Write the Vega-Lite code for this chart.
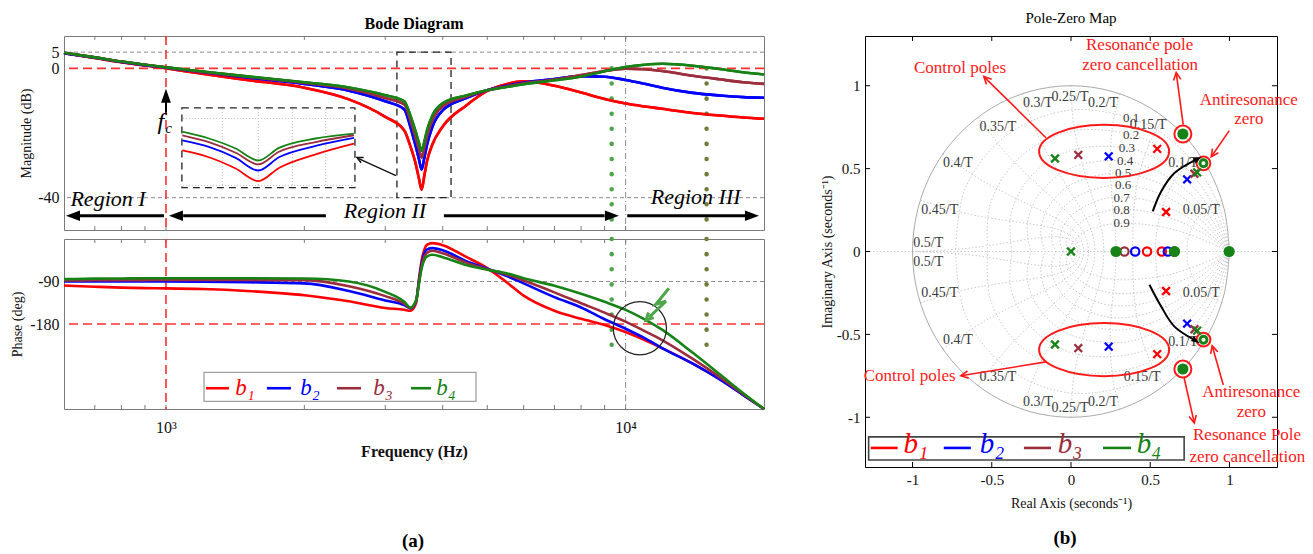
{
"$schema": "https://vega.github.io/schema/vega-lite/v6.json",
"background": "white",
"padding": {"left": 10, "top": 10, "right": 5, "bottom": 5},
"config": {
  "font": "Liberation Serif",
  "view": {"stroke": "#7a7a7a"},
  "axis": {"domain": false, "grid": false, "ticks": false, "labelColor": "#111", "titleColor": "#111", "labelFontSize": 16, "titleFontSize": 14, "titleFontWeight": "normal", "labelFont": "Liberation Serif", "titleFont": "Liberation Serif"},
  "title": {"color": "#000", "font": "Liberation Serif"},
  "text": {"font": "Liberation Serif"}
},
"datasets": {
  "bode": [
    {"f":600,"s":"b1","m":4.7,"p":-98.5},{"f":600,"s":"b2","m":4.7,"p":-90},{"f":600,"s":"b3","m":4.8,"p":-88},{"f":600,"s":"b4","m":4.8,"p":-85},
    {"f":700,"s":"b1","m":3.2,"p":-101},{"f":700,"s":"b2","m":3.3,"p":-90},{"f":700,"s":"b3","m":3.4,"p":-87.5},{"f":700,"s":"b4","m":3.4,"p":-84},
    {"f":800,"s":"b1","m":1.9,"p":-103},{"f":800,"s":"b2","m":2.0,"p":-90},{"f":800,"s":"b3","m":2.1,"p":-87},{"f":800,"s":"b4","m":2.1,"p":-83.5},
    {"f":900,"s":"b1","m":0.9,"p":-104},{"f":900,"s":"b2","m":1.0,"p":-90},{"f":900,"s":"b3","m":1.1,"p":-87},{"f":900,"s":"b4","m":1.1,"p":-83},
    {"f":1000,"s":"b1","m":0.0,"p":-104.5},{"f":1000,"s":"b2","m":0.2,"p":-90},{"f":1000,"s":"b3","m":0.3,"p":-86.5},{"f":1000,"s":"b4","m":0.3,"p":-83},
    {"f":1200,"s":"b1","m":-1.7,"p":-106},{"f":1200,"s":"b2","m":-1.2,"p":-90.5},{"f":1200,"s":"b3","m":-1.1,"p":-86.5},{"f":1200,"s":"b4","m":-1.0,"p":-83},
    {"f":1500,"s":"b1","m":-3.6,"p":-110},{"f":1500,"s":"b2","m":-2.8,"p":-91.5},{"f":1500,"s":"b3","m":-2.6,"p":-86.5},{"f":1500,"s":"b4","m":-2.5,"p":-83},
    {"f":2000,"s":"b1","m":-6.0,"p":-119},{"f":2000,"s":"b2","m":-4.8,"p":-94},{"f":2000,"s":"b3","m":-4.5,"p":-87},{"f":2000,"s":"b4","m":-4.3,"p":-83.5},
    {"f":2500,"s":"b1","m":-9.6,"p":-132},{"f":2500,"s":"b2","m":-6.9,"p":-110},{"f":2500,"s":"b3","m":-6.3,"p":-100},{"f":2500,"s":"b4","m":-5.9,"p":-90},
    {"f":3000,"s":"b1","m":-15.0,"p":-146},{"f":3000,"s":"b2","m":-10.2,"p":-130},{"f":3000,"s":"b3","m":-9.2,"p":-121},{"f":3000,"s":"b4","m":-8.3,"p":-112},
    {"f":3300,"s":"b1","m":-19.2,"p":-150},{"f":3300,"s":"b2","m":-12.7,"p":-140},{"f":3300,"s":"b3","m":-11.2,"p":-137},{"f":3300,"s":"b4","m":-10.2,"p":-133},
    {"f":3400,"s":"b1","m":-24.0,"p":-152},{"f":3400,"s":"b2","m":-18.0,"p":-147},{"f":3400,"s":"b3","m":-16.0,"p":-146},{"f":3400,"s":"b4","m":-14.5,"p":-145},
    {"f":3500,"s":"b1","m":-30.0,"p":-136},{"f":3500,"s":"b2","m":-24.5,"p":-132},{"f":3500,"s":"b3","m":-22.0,"p":-131},{"f":3500,"s":"b4","m":-20.0,"p":-130},
    {"f":3550,"s":"b1","m":-34.0,"p":-86},{"f":3550,"s":"b2","m":-28.0,"p":-90},{"f":3550,"s":"b3","m":-25.0,"p":-93},{"f":3550,"s":"b4","m":-23.0,"p":-96},
    {"f":3600,"s":"b1","m":-37.5,"p":-45},{"f":3600,"s":"b2","m":-31.3,"p":-52},{"f":3600,"s":"b3","m":-27.6,"p":-57},{"f":3600,"s":"b4","m":-25.5,"p":-62},
    {"f":3650,"s":"b1","m":-33.0,"p":-22},{"f":3650,"s":"b2","m":-27.5,"p":-30},{"f":3650,"s":"b3","m":-24.5,"p":-37},{"f":3650,"s":"b4","m":-22.5,"p":-44},
    {"f":3700,"s":"b1","m":-28.5,"p":-12},{"f":3700,"s":"b2","m":-23.5,"p":-22},{"f":3700,"s":"b3","m":-21.0,"p":-29},{"f":3700,"s":"b4","m":-19.0,"p":-37},
    {"f":3800,"s":"b1","m":-23.5,"p":-8.7},{"f":3800,"s":"b2","m":-18.0,"p":-19.3},{"f":3800,"s":"b3","m":-16.0,"p":-25},{"f":3800,"s":"b4","m":-14.5,"p":-33.5},
    {"f":4000,"s":"b1","m":-18.0,"p":-13},{"f":4000,"s":"b2","m":-13.0,"p":-24},{"f":4000,"s":"b3","m":-11.8,"p":-30},{"f":4000,"s":"b4","m":-10.8,"p":-38.5},
    {"f":4500,"s":"b1","m":-11.5,"p":-38},{"f":4500,"s":"b2","m":-9.2,"p":-47},{"f":4500,"s":"b3","m":-8.8,"p":-50},{"f":4500,"s":"b4","m":-8.4,"p":-55},
    {"f":5000,"s":"b1","m":-7.0,"p":-61.5},{"f":5000,"s":"b2","m":-6.8,"p":-63},{"f":5000,"s":"b3","m":-6.8,"p":-64},{"f":5000,"s":"b4","m":-6.8,"p":-65},
    {"f":5500,"s":"b1","m":-4.9,"p":-91},{"f":5500,"s":"b2","m":-5.4,"p":-78},{"f":5500,"s":"b3","m":-5.6,"p":-75},{"f":5500,"s":"b4","m":-5.8,"p":-72.5},
    {"f":6000,"s":"b1","m":-4.0,"p":-120},{"f":6000,"s":"b2","m":-4.4,"p":-94},{"f":6000,"s":"b3","m":-4.6,"p":-88},{"f":6000,"s":"b4","m":-4.9,"p":-83},
    {"f":7000,"s":"b1","m":-5.4,"p":-152},{"f":7000,"s":"b2","m":-3.3,"p":-123},{"f":7000,"s":"b3","m":-3.5,"p":-113},{"f":7000,"s":"b4","m":-3.7,"p":-99},
    {"f":8000,"s":"b1","m":-7.5,"p":-169},{"f":8000,"s":"b2","m":-2.4,"p":-145},{"f":8000,"s":"b3","m":-2.1,"p":-136},{"f":8000,"s":"b4","m":-2.5,"p":-116},
    {"f":9000,"s":"b1","m":-9.5,"p":-182},{"f":9000,"s":"b2","m":-2.6,"p":-170},{"f":9000,"s":"b3","m":-0.8,"p":-156},{"f":9000,"s":"b4","m":-0.9,"p":-133},
    {"f":10000,"s":"b1","m":-10.9,"p":-197},{"f":10000,"s":"b2","m":-3.6,"p":-190},{"f":10000,"s":"b3","m":-0.1,"p":-175},{"f":10000,"s":"b4","m":0.4,"p":-150},
    {"f":11000,"s":"b1","m":-11.8,"p":-214},{"f":11000,"s":"b2","m":-4.8,"p":-210},{"f":11000,"s":"b3","m":-0.3,"p":-195},{"f":11000,"s":"b4","m":1.1,"p":-170},
    {"f":12000,"s":"b1","m":-12.5,"p":-231},{"f":12000,"s":"b2","m":-6.0,"p":-231},{"f":12000,"s":"b3","m":-0.8,"p":-214},{"f":12000,"s":"b4","m":1.4,"p":-192},
    {"f":14000,"s":"b1","m":-13.8,"p":-264},{"f":14000,"s":"b2","m":-7.6,"p":-264},{"f":14000,"s":"b3","m":-2.3,"p":-254},{"f":14000,"s":"b4","m":0.8,"p":-241},
    {"f":16000,"s":"b1","m":-14.6,"p":-297},{"f":16000,"s":"b2","m":-8.4,"p":-297},{"f":16000,"s":"b3","m":-3.4,"p":-292},{"f":16000,"s":"b4","m":-0.2,"p":-286},
    {"f":18000,"s":"b1","m":-15.2,"p":-330},{"f":18000,"s":"b2","m":-8.9,"p":-330},{"f":18000,"s":"b3","m":-4.3,"p":-328},{"f":18000,"s":"b4","m":-1.2,"p":-326},
    {"f":20000,"s":"b1","m":-15.6,"p":-360},{"f":20000,"s":"b2","m":-9.1,"p":-360},{"f":20000,"s":"b3","m":-4.8,"p":-360},{"f":20000,"s":"b4","m":-1.9,"p":-360}
  ],
  "inset": [
    {"f":1085,"s":"b4","m":-19.6},{"f":1240,"s":"b4","m":-21.7},{"f":1418,"s":"b4","m":-24.8},{"f":1588,"s":"b4","m":-28.5},{"f":1761,"s":"b4","m":-24.6},{"f":2117,"s":"b4","m":-21.7},{"f":2564,"s":"b4","m":-20.2},
    {"f":1085,"s":"b3","m":-20.7},{"f":1240,"s":"b3","m":-22.8},{"f":1418,"s":"b3","m":-26.1},{"f":1588,"s":"b3","m":-29.7},{"f":1761,"s":"b3","m":-25.8},{"f":2117,"s":"b3","m":-22.8},{"f":2564,"s":"b3","m":-20.7},
    {"f":1085,"s":"b2","m":-22.3},{"f":1240,"s":"b2","m":-24.3},{"f":1418,"s":"b2","m":-27.7},{"f":1588,"s":"b2","m":-31.6},{"f":1761,"s":"b2","m":-27.5},{"f":2117,"s":"b2","m":-24.0},{"f":2564,"s":"b2","m":-21.5},
    {"f":1085,"s":"b1","m":-25.4},{"f":1240,"s":"b1","m":-27.5},{"f":1418,"s":"b1","m":-31.0},{"f":1588,"s":"b1","m":-34.9},{"f":1761,"s":"b1","m":-30.8},{"f":2117,"s":"b1","m":-26.6},{"f":2564,"s":"b1","m":-23.3}
  ],
  "xticks": [{"f":700},{"f":800},{"f":900},{"f":1000},{"f":2000},{"f":3000},{"f":4000},{"f":5000},{"f":6000},{"f":7000},{"f":8000},{"f":9000},{"f":10000}],
  "pzticks": [{"v":-1},{"v":-0.5},{"v":0},{"v":0.5},{"v":1}],
  "blegend": [{"s":"b1","a":1222,"b":1371,"c":1485,"t":"b₁"},{"s":"b2","a":1658,"b":1870,"c":2057,"t":"b₂"},{"s":"b3","a":2355,"b":2657,"c":2965,"t":"b₃"},{"s":"b4","a":3412,"b":3772,"c":4065,"t":"b₄"}],
  "pzlegend": [{"s":"b1","a":-1.264,"b":-1.094,"c":-0.98,"t":"b₁"},{"s":"b2","a":-0.803,"b":-0.632,"c":-0.499,"t":"b₂"},{"s":"b3","a":-0.297,"b":-0.126,"c":-0.006,"t":"b₃"},{"s":"b4","a":0.202,"b":0.379,"c":0.493,"t":"b₄"}],
  "uc": [
    {"x":1,"y":0},{"x":0.9659,"y":0.2588},{"x":0.866,"y":0.5},{"x":0.7071,"y":0.7071},{"x":0.5,"y":0.866},{"x":0.2588,"y":0.9659},{"x":0,"y":1},{"x":-0.2588,"y":0.9659},{"x":-0.5,"y":0.866},{"x":-0.7071,"y":0.7071},{"x":-0.866,"y":0.5},{"x":-0.9659,"y":0.2588},{"x":-1,"y":0},
    {"x":-0.9659,"y":-0.2588},{"x":-0.866,"y":-0.5},{"x":-0.7071,"y":-0.7071},{"x":-0.5,"y":-0.866},{"x":-0.2588,"y":-0.9659},{"x":0,"y":-1},{"x":0.2588,"y":-0.9659},{"x":0.5,"y":-0.866},{"x":0.7071,"y":-0.7071},{"x":0.866,"y":-0.5},{"x":0.9659,"y":-0.2588},{"x":1,"y":0}
  ],
  "pzgrid": [
    {"g":"z1u","x":1,"y":0},{"g":"z1u","x":0.9408,"y":0.2521},{"g":"z1u","x":0.8217,"y":0.4744},{"g":"z1u","x":0.6534,"y":0.6534},{"g":"z1u","x":0.45,"y":0.7795},{"g":"z1u","x":0,"y":0.854},{"g":"z1u","x":-0.4051,"y":0.7016},{"g":"z1u","x":-0.6656,"y":0.3843},{"g":"z1u","x":-0.7293,"y":0},
    {"g":"z2u","x":1,"y":0},{"g":"z2u","x":0.9157,"y":0.2453},{"g":"z2u","x":0.7782,"y":0.4493},{"g":"z2u","x":0.6024,"y":0.6024},{"g":"z2u","x":0.4038,"y":0.6994},{"g":"z2u","x":0,"y":0.7257},{"g":"z2u","x":-0.3261,"y":0.5648},{"g":"z2u","x":-0.5076,"y":0.2931},{"g":"z2u","x":-0.5267,"y":0},
    {"g":"z3u","x":1,"y":0},{"g":"z3u","x":0.8896,"y":0.2384},{"g":"z3u","x":0.7345,"y":0.4241},{"g":"z3u","x":0.5523,"y":0.5523},{"g":"z3u","x":0.3597,"y":0.623},{"g":"z3u","x":0,"y":0.6102},{"g":"z3u","x":-0.2588,"y":0.4482},{"g":"z3u","x":-0.3802,"y":0.2195},{"g":"z3u","x":-0.3723,"y":0},
    {"g":"z4u","x":1,"y":0},{"g":"z4u","x":0.8616,"y":0.2309},{"g":"z4u","x":0.6891,"y":0.3979},{"g":"z4u","x":0.502,"y":0.502},{"g":"z4u","x":0.3166,"y":0.5484},{"g":"z4u","x":0,"y":0.5038},{"g":"z4u","x":-0.2005,"y":0.3472},{"g":"z4u","x":-0.2763,"y":0.1595},{"g":"z4u","x":-0.2539,"y":0},
    {"g":"z5u","x":1,"y":0},{"g":"z5u","x":0.8304,"y":0.2225},{"g":"z5u","x":0.6401,"y":0.3696},{"g":"z5u","x":0.4493,"y":0.4493},{"g":"z5u","x":0.2732,"y":0.4731},{"g":"z5u","x":0,"y":0.4038},{"g":"z5u","x":-0.1492,"y":0.2584},{"g":"z5u","x":-0.191,"y":0.1103},{"g":"z5u","x":-0.163,"y":0},
    {"g":"z6u","x":1,"y":0},{"g":"z6u","x":0.7937,"y":0.2127},{"g":"z6u","x":0.5847,"y":0.3376},{"g":"z6u","x":0.3924,"y":0.3924},{"g":"z6u","x":0.228,"y":0.3948},{"g":"z6u","x":0,"y":0.3079},{"g":"z6u","x":-0.104,"y":0.18},{"g":"z6u","x":-0.1216,"y":0.0702},{"g":"z6u","x":-0.0948,"y":0},
    {"g":"z7u","x":1,"y":0},{"g":"z7u","x":0.7473,"y":0.2002},{"g":"z7u","x":0.5184,"y":0.2993},{"g":"z7u","x":0.3275,"y":0.3275},{"g":"z7u","x":0.1792,"y":0.3103},{"g":"z7u","x":0,"y":0.2145},{"g":"z7u","x":-0.0642,"y":0.1112},{"g":"z7u","x":-0.0665,"y":0.0384},{"g":"z7u","x":-0.046,"y":0},
    {"g":"z8u","x":1,"y":0},{"g":"z8u","x":0.8327,"y":0.1096},{"g":"z8u","x":0.6812,"y":0.1825},{"g":"z8u","x":0.4308,"y":0.2488},{"g":"z8u","x":0.2481,"y":0.2481},{"g":"z8u","x":0.1238,"y":0.2143},{"g":"z8u","x":0,"y":0.1231},{"g":"z8u","x":-0.0307,"y":0.0531},{"g":"z8u","x":-0.0264,"y":0.0153},{"g":"z8u","x":-0.0152,"y":0},
    {"g":"z9u","x":1,"y":0},{"g":"z9u","x":0.7567,"y":0.0996},{"g":"z9u","x":0.5627,"y":0.1508},{"g":"z9u","x":0.2937,"y":0.1696},{"g":"z9u","x":0.1397,"y":0.1397},{"g":"z9u","x":0.0576,"y":0.0997},{"g":"z9u","x":0,"y":0.039},{"g":"z9u","x":-0.0066,"y":0.0114},{"g":"z9u","x":-0.0015,"y":0},
    {"g":"z1l","x":1,"y":0},{"g":"z1l","x":0.9408,"y":-0.2521},{"g":"z1l","x":0.8217,"y":-0.4744},{"g":"z1l","x":0.6534,"y":-0.6534},{"g":"z1l","x":0.45,"y":-0.7795},{"g":"z1l","x":0,"y":-0.854},{"g":"z1l","x":-0.4051,"y":-0.7016},{"g":"z1l","x":-0.6656,"y":-0.3843},{"g":"z1l","x":-0.7293,"y":0},
    {"g":"z2l","x":1,"y":0},{"g":"z2l","x":0.9157,"y":-0.2453},{"g":"z2l","x":0.7782,"y":-0.4493},{"g":"z2l","x":0.6024,"y":-0.6024},{"g":"z2l","x":0.4038,"y":-0.6994},{"g":"z2l","x":0,"y":-0.7257},{"g":"z2l","x":-0.3261,"y":-0.5648},{"g":"z2l","x":-0.5076,"y":-0.2931},{"g":"z2l","x":-0.5267,"y":0},
    {"g":"z3l","x":1,"y":0},{"g":"z3l","x":0.8896,"y":-0.2384},{"g":"z3l","x":0.7345,"y":-0.4241},{"g":"z3l","x":0.5523,"y":-0.5523},{"g":"z3l","x":0.3597,"y":-0.623},{"g":"z3l","x":0,"y":-0.6102},{"g":"z3l","x":-0.2588,"y":-0.4482},{"g":"z3l","x":-0.3802,"y":-0.2195},{"g":"z3l","x":-0.3723,"y":0},
    {"g":"z4l","x":1,"y":0},{"g":"z4l","x":0.8616,"y":-0.2309},{"g":"z4l","x":0.6891,"y":-0.3979},{"g":"z4l","x":0.502,"y":-0.502},{"g":"z4l","x":0.3166,"y":-0.5484},{"g":"z4l","x":0,"y":-0.5038},{"g":"z4l","x":-0.2005,"y":-0.3472},{"g":"z4l","x":-0.2763,"y":-0.1595},{"g":"z4l","x":-0.2539,"y":0},
    {"g":"z5l","x":1,"y":0},{"g":"z5l","x":0.8304,"y":-0.2225},{"g":"z5l","x":0.6401,"y":-0.3696},{"g":"z5l","x":0.4493,"y":-0.4493},{"g":"z5l","x":0.2732,"y":-0.4731},{"g":"z5l","x":0,"y":-0.4038},{"g":"z5l","x":-0.1492,"y":-0.2584},{"g":"z5l","x":-0.191,"y":-0.1103},{"g":"z5l","x":-0.163,"y":0},
    {"g":"z6l","x":1,"y":0},{"g":"z6l","x":0.7937,"y":-0.2127},{"g":"z6l","x":0.5847,"y":-0.3376},{"g":"z6l","x":0.3924,"y":-0.3924},{"g":"z6l","x":0.228,"y":-0.3948},{"g":"z6l","x":0,"y":-0.3079},{"g":"z6l","x":-0.104,"y":-0.18},{"g":"z6l","x":-0.1216,"y":-0.0702},{"g":"z6l","x":-0.0948,"y":0},
    {"g":"z7l","x":1,"y":0},{"g":"z7l","x":0.7473,"y":-0.2002},{"g":"z7l","x":0.5184,"y":-0.2993},{"g":"z7l","x":0.3275,"y":-0.3275},{"g":"z7l","x":0.1792,"y":-0.3103},{"g":"z7l","x":0,"y":-0.2145},{"g":"z7l","x":-0.0642,"y":-0.1112},{"g":"z7l","x":-0.0665,"y":-0.0384},{"g":"z7l","x":-0.046,"y":0},
    {"g":"z8l","x":1,"y":0},{"g":"z8l","x":0.8327,"y":-0.1096},{"g":"z8l","x":0.6812,"y":-0.1825},{"g":"z8l","x":0.4308,"y":-0.2488},{"g":"z8l","x":0.2481,"y":-0.2481},{"g":"z8l","x":0.1238,"y":-0.2143},{"g":"z8l","x":0,"y":-0.1231},{"g":"z8l","x":-0.0307,"y":-0.0531},{"g":"z8l","x":-0.0264,"y":-0.0153},{"g":"z8l","x":-0.0152,"y":0},
    {"g":"z9l","x":1,"y":0},{"g":"z9l","x":0.7567,"y":-0.0996},{"g":"z9l","x":0.5627,"y":-0.1508},{"g":"z9l","x":0.2937,"y":-0.1696},{"g":"z9l","x":0.1397,"y":-0.1397},{"g":"z9l","x":0.0576,"y":-0.0997},{"g":"z9l","x":0,"y":-0.039},{"g":"z9l","x":-0.0066,"y":-0.0114},{"g":"z9l","x":-0.0015,"y":0},
    {"g":"w1u","x":0.9511,"y":0.309},{"g":"w1u","x":0.8798,"y":0.2755},{"g":"w1u","x":0.8232,"y":0.2297},{"g":"w1u","x":0.7811,"y":0.1764},{"g":"w1u","x":0.7524,"y":0.1191},{"g":"w1u","x":0.7359,"y":0.06},{"g":"w1u","x":0.7304,"y":0},
    {"g":"w2u","x":0.809,"y":0.5878},{"g":"w2u","x":0.6981,"y":0.4848},{"g":"w2u","x":0.6249,"y":0.3781},{"g":"w2u","x":0.579,"y":0.2757},{"g":"w2u","x":0.5519,"y":0.1793},{"g":"w2u","x":0.5379,"y":0.0883},{"g":"w2u","x":0.5335,"y":0},
    {"g":"w3u","x":0.5878,"y":0.809},{"g":"w3u","x":0.5255,"y":0.7113},{"g":"w3u","x":0.4808,"y":0.6187},{"g":"w3u","x":0.4277,"y":0.4548},{"g":"w3u","x":0.4037,"y":0.3175},{"g":"w3u","x":0.3939,"y":0.2007},{"g":"w3u","x":0.3905,"y":0.0972},{"g":"w3u","x":0.3897,"y":0},
    {"g":"w4u","x":0.309,"y":0.9511},{"g":"w4u","x":0.271,"y":0.8043},{"g":"w4u","x":0.253,"y":0.6767},{"g":"w4u","x":0.2479,"y":0.4724},{"g":"w4u","x":0.2593,"y":0.3192},{"g":"w4u","x":0.2725,"y":0.198},{"g":"w4u","x":0.2815,"y":0.0949},{"g":"w4u","x":0.2846,"y":0},
    {"g":"w5u","x":0,"y":1},{"g":"w5u","x":0.011,"y":0.8145},{"g":"w5u","x":0.0356,"y":0.665},{"g":"w5u","x":0.0953,"y":0.4458},{"g":"w5u","x":0.1464,"y":0.295},{"g":"w5u","x":0.1814,"y":0.1814},{"g":"w5u","x":0.2014,"y":0.0867},{"g":"w5u","x":0.2079,"y":0},
    {"g":"w6u","x":-0.309,"y":0.9511},{"g":"w6u","x":-0.2296,"y":0.7474},{"g":"w6u","x":-0.1519,"y":0.5948},{"g":"w6u","x":-0.024,"y":0.389},{"g":"w6u","x":0.0621,"y":0.2563},{"g":"w6u","x":0.1149,"y":0.1582},{"g":"w6u","x":0.143,"y":0.0759},{"g":"w6u","x":0.1518,"y":0},
    {"g":"w7u","x":-0.5878,"y":0.809},{"g":"w7u","x":-0.4295,"y":0.6155},{"g":"w7u","x":-0.2973,"y":0.4816},{"g":"w7u","x":-0.1091,"y":0.3147},{"g":"w7u","x":0.0033,"y":0.2112},{"g":"w7u","x":0.0676,"y":0.1327},{"g":"w7u","x":0.1007,"y":0.0644},{"g":"w7u","x":0.1109,"y":0},
    {"g":"w8u","x":-0.809,"y":0.5878},{"g":"w8u","x":-0.5736,"y":0.4358},{"g":"w8u","x":-0.3942,"y":0.3419},{"g":"w8u","x":-0.162,"y":0.234},{"g":"w8u","x":-0.0347,"y":0.1655},{"g":"w8u","x":0.035,"y":0.1079},{"g":"w8u","x":0.0702,"y":0.0534},{"g":"w8u","x":0.081,"y":0},
    {"g":"w9u","x":-0.9511,"y":0.309},{"g":"w9u","x":-0.6531,"y":0.227},{"g":"w9u","x":-0.4411,"y":0.1919},{"g":"w9u","x":-0.1871,"y":0.1554},{"g":"w9u","x":-0.0563,"y":0.1233},{"g":"w9u","x":0.0135,"y":0.0853},{"g":"w9u","x":0.0484,"y":0.0435},{"g":"w9u","x":0.0592,"y":0},
    {"g":"w10u","x":-1,"y":0},{"g":"w10u","x":-0.6634,"y":0.0179},{"g":"w10u","x":-0.441,"y":0.0474},{"g":"w10u","x":-0.1899,"y":0.0846},{"g":"w10u","x":-0.0657,"y":0.0863},{"g":"w10u","x":0,"y":0.0658},{"g":"w10u","x":0.0331,"y":0.0349},{"g":"w10u","x":0.0432,"y":0},
    {"g":"w1l","x":0.9511,"y":-0.309},{"g":"w1l","x":0.8798,"y":-0.2755},{"g":"w1l","x":0.8232,"y":-0.2297},{"g":"w1l","x":0.7811,"y":-0.1764},{"g":"w1l","x":0.7524,"y":-0.1191},{"g":"w1l","x":0.7359,"y":-0.06},{"g":"w1l","x":0.7304,"y":0},
    {"g":"w2l","x":0.809,"y":-0.5878},{"g":"w2l","x":0.6981,"y":-0.4848},{"g":"w2l","x":0.6249,"y":-0.3781},{"g":"w2l","x":0.579,"y":-0.2757},{"g":"w2l","x":0.5519,"y":-0.1793},{"g":"w2l","x":0.5379,"y":-0.0883},{"g":"w2l","x":0.5335,"y":0},
    {"g":"w3l","x":0.5878,"y":-0.809},{"g":"w3l","x":0.5255,"y":-0.7113},{"g":"w3l","x":0.4808,"y":-0.6187},{"g":"w3l","x":0.4277,"y":-0.4548},{"g":"w3l","x":0.4037,"y":-0.3175},{"g":"w3l","x":0.3939,"y":-0.2007},{"g":"w3l","x":0.3905,"y":-0.0972},{"g":"w3l","x":0.3897,"y":0},
    {"g":"w4l","x":0.309,"y":-0.9511},{"g":"w4l","x":0.271,"y":-0.8043},{"g":"w4l","x":0.253,"y":-0.6767},{"g":"w4l","x":0.2479,"y":-0.4724},{"g":"w4l","x":0.2593,"y":-0.3192},{"g":"w4l","x":0.2725,"y":-0.198},{"g":"w4l","x":0.2815,"y":-0.0949},{"g":"w4l","x":0.2846,"y":0},
    {"g":"w5l","x":0,"y":-1},{"g":"w5l","x":0.011,"y":-0.8145},{"g":"w5l","x":0.0356,"y":-0.665},{"g":"w5l","x":0.0953,"y":-0.4458},{"g":"w5l","x":0.1464,"y":-0.295},{"g":"w5l","x":0.1814,"y":-0.1814},{"g":"w5l","x":0.2014,"y":-0.0867},{"g":"w5l","x":0.2079,"y":0},
    {"g":"w6l","x":-0.309,"y":-0.9511},{"g":"w6l","x":-0.2296,"y":-0.7474},{"g":"w6l","x":-0.1519,"y":-0.5948},{"g":"w6l","x":-0.024,"y":-0.389},{"g":"w6l","x":0.0621,"y":-0.2563},{"g":"w6l","x":0.1149,"y":-0.1582},{"g":"w6l","x":0.143,"y":-0.0759},{"g":"w6l","x":0.1518,"y":0},
    {"g":"w7l","x":-0.5878,"y":-0.809},{"g":"w7l","x":-0.4295,"y":-0.6155},{"g":"w7l","x":-0.2973,"y":-0.4816},{"g":"w7l","x":-0.1091,"y":-0.3147},{"g":"w7l","x":0.0033,"y":-0.2112},{"g":"w7l","x":0.0676,"y":-0.1327},{"g":"w7l","x":0.1007,"y":-0.0644},{"g":"w7l","x":0.1109,"y":0},
    {"g":"w8l","x":-0.809,"y":-0.5878},{"g":"w8l","x":-0.5736,"y":-0.4358},{"g":"w8l","x":-0.3942,"y":-0.3419},{"g":"w8l","x":-0.162,"y":-0.234},{"g":"w8l","x":-0.0347,"y":-0.1655},{"g":"w8l","x":0.035,"y":-0.1079},{"g":"w8l","x":0.0702,"y":-0.0534},{"g":"w8l","x":0.081,"y":0},
    {"g":"w9l","x":-0.9511,"y":-0.309},{"g":"w9l","x":-0.6531,"y":-0.227},{"g":"w9l","x":-0.4411,"y":-0.1919},{"g":"w9l","x":-0.1871,"y":-0.1554},{"g":"w9l","x":-0.0563,"y":-0.1233},{"g":"w9l","x":0.0135,"y":-0.0853},{"g":"w9l","x":0.0484,"y":-0.0435},{"g":"w9l","x":0.0592,"y":0},
    {"g":"w10l","x":-1,"y":0},{"g":"w10l","x":-0.6634,"y":-0.0179},{"g":"w10l","x":-0.441,"y":-0.0474},{"g":"w10l","x":-0.1899,"y":-0.0846},{"g":"w10l","x":-0.0657,"y":-0.0863},{"g":"w10l","x":0,"y":-0.0658},{"g":"w10l","x":0.0331,"y":-0.0349},{"g":"w10l","x":0.0432,"y":0}
  ],
  "pzlabels": [
    {"x":-0.901,"y":0.053,"t":"0.5/T"},{"x":-0.901,"y":-0.062,"t":"0.5/T"},
    {"x":-0.828,"y":0.252,"t":"0.45/T"},{"x":-0.828,"y":-0.249,"t":"0.45/T"},
    {"x":-0.714,"y":0.536,"t":"0.4/T"},{"x":-0.714,"y":-0.533,"t":"0.4/T"},
    {"x":-0.461,"y":0.753,"t":"0.35/T"},{"x":-0.461,"y":-0.757,"t":"0.35/T"},
    {"x":-0.209,"y":0.898,"t":"0.3/T"},{"x":-0.209,"y":-0.908,"t":"0.3/T"},
    {"x":-0.006,"y":0.934,"t":"0.25/T"},{"x":-0.006,"y":-0.944,"t":"0.25/T"},
    {"x":0.202,"y":0.898,"t":"0.2/T"},{"x":0.202,"y":-0.908,"t":"0.2/T"},
    {"x":0.487,"y":0.765,"t":"0.15/T"},{"x":0.449,"y":-0.757,"t":"0.15/T"},
    {"x":0.708,"y":0.536,"t":"0.1/T"},{"x":0.708,"y":-0.545,"t":"0.1/T"},
    {"x":0.822,"y":0.252,"t":"0.05/T"},{"x":0.822,"y":-0.249,"t":"0.05/T"}
  ],
  "zlabels": [
    {"x":0.379,"y":0.807,"t":"0.1"},{"x":0.379,"y":0.705,"t":"0.2"},{"x":0.352,"y":0.624,"t":"0.3"},{"x":0.341,"y":0.543,"t":"0.4"},{"x":0.329,"y":0.473,"t":"0.5"},{"x":0.329,"y":0.403,"t":"0.6"},{"x":0.32,"y":0.322,"t":"0.7"},{"x":0.32,"y":0.252,"t":"0.8"},{"x":0.32,"y":0.171,"t":"0.9"}
  ],
  "pz": [
    {"s":"b1","k":"p","x":0.544,"y":0.619},{"s":"b1","k":"p","x":0.544,"y":-0.619},{"s":"b1","k":"p","x":0.6,"y":0.238},{"s":"b1","k":"p","x":0.6,"y":-0.238},
    {"s":"b2","k":"p","x":0.238,"y":0.574},{"s":"b2","k":"p","x":0.238,"y":-0.574},{"s":"b2","k":"p","x":0.733,"y":0.435},{"s":"b2","k":"p","x":0.733,"y":-0.435},
    {"s":"b3","k":"p","x":0.046,"y":0.583},{"s":"b3","k":"p","x":0.046,"y":-0.583},{"s":"b3","k":"p","x":0.779,"y":0.469},{"s":"b3","k":"p","x":0.779,"y":-0.469},
    {"s":"b4","k":"p","x":-0.101,"y":0.561},{"s":"b4","k":"p","x":-0.101,"y":-0.561},{"s":"b4","k":"p","x":0.796,"y":0.477},{"s":"b4","k":"p","x":0.796,"y":-0.477},{"s":"b4","k":"p","x":0,"y":0},
    {"s":"b3","k":"z","x":0.337,"y":0},{"s":"b2","k":"z","x":0.405,"y":0},{"s":"b1","k":"z","x":0.48,"y":0},{"s":"b1","k":"z","x":0.573,"y":0},{"s":"b2","k":"z","x":0.611,"y":0},{"s":"b3","k":"z","x":0.653,"y":0},
    {"s":"b4","k":"d","x":0.284,"y":0},{"s":"b4","k":"d","x":0.653,"y":0},{"s":"b4","k":"d","x":0.998,"y":0},{"s":"b4","k":"d","x":0.706,"y":0.709},{"s":"b4","k":"d","x":0.706,"y":-0.709},
    {"s":"b4","k":"r","x":0.836,"y":0.532},{"s":"b4","k":"r","x":0.836,"y":-0.532}
  ],
  "redarrows": [
    {"a":"1","x":-0.158,"y":0.686},{"a":"1","x":-0.55,"y":1.055},
    {"a":"2","x":-0.158,"y":-0.666},{"a":"2","x":-0.695,"y":-0.75},
    {"a":"3","x":0.708,"y":0.765},{"a":"3","x":0.664,"y":1.079},
    {"a":"4","x":0.999,"y":0.729},{"a":"4","x":0.885,"y":0.572},
    {"a":"5","x":0.961,"y":-0.805},{"a":"5","x":0.891,"y":-0.569},
    {"a":"6","x":0.714,"y":-0.763},{"a":"6","x":0.778,"y":-1.034}
  ],
  "redheads": [
    {"x":-0.55,"y":1.055,"ang":314.5},{"x":-0.695,"y":-0.75,"ang":260.6},{"x":0.664,"y":1.079,"ang":352.3},
    {"x":0.885,"y":0.572,"ang":214.7},{"x":0.891,"y":-0.569,"ang":344.2},{"x":0.778,"y":-1.034,"ang":167.5}
  ],
  "redtext": [
    {"x":-0.70,"y":1.109,"t":"Control poles"},{"x":-1.018,"y":-0.75,"t":"Control poles"},
    {"x":0.433,"y":1.248,"t":"Resonance pole"},{"x":0.436,"y":1.127,"t":"zero cancellation"},
    {"x":1.122,"y":0.916,"t":"Antiresonance"},{"x":1.122,"y":0.8,"t":"zero"},
    {"x":1.138,"y":-0.849,"t":"Antiresonance"},{"x":1.138,"y":-0.966,"t":"zero"},
    {"x":1.111,"y":-1.107,"t":"Resonance Pole"},{"x":1.113,"y":-1.238,"t":"zero cancellation"}
  ],
  "blackarrows": [
    {"a":"u","x":0.516,"y":0.242},{"a":"u","x":0.569,"y":0.362},{"a":"u","x":0.653,"y":0.473},{"a":"u","x":0.79,"y":0.554},
    {"a":"l","x":0.495,"y":-0.201},{"a":"l","x":0.569,"y":-0.332},{"a":"l","x":0.653,"y":-0.453},{"a":"l","x":0.779,"y":-0.533}
  ],
  "blackheads": [{"x":0.823,"y":0.572,"ang":59},{"x":0.811,"y":-0.553,"ang":123}]
},
"spacing": 49,
"hconcat": [
{
  "title": {"text": "(a)", "orient": "bottom", "anchor": "middle", "fontSize": 19, "fontWeight": "bold", "offset": 72, "frame": "group", "dx": 349},
  "spacing": 3,
  "vconcat": [
  {
    "width": 700, "height": 194,
    "title": {"text": "Bode Diagram", "fontSize": 16, "fontWeight": "bold", "offset": 3},
    "view": {"stroke": "#7a7a7a"},
    "layer": [
      {"data": {"name": "bode"}, "mark": {"type": "line", "strokeWidth": 2.6, "interpolate": "monotone"},
       "encoding": {
         "x": {"field": "f", "type": "quantitative", "scale": {"type": "log", "domain": [600, 20000], "nice": false}, "axis": {"labels": false, "title": null, "ticks": false, "domain": false}},
         "y": {"field": "m", "type": "quantitative", "scale": {"domain": [-50, 10], "nice": false, "zero": false}, "axis": {"values": [-40, 0, 5], "labelExpr": "'' + datum.value", "title": "Magnitude (dB)", "labelPadding": 5, "titlePadding": 4}},
         "color": {"field": "s", "type": "nominal", "scale": {"domain": ["b1", "b2", "b3", "b4"], "range": ["#ff0000", "#0000ff", "#9b2d3c", "#178317"]}, "legend": null}}},
      {"data": {"values": [{"v": 5}, {"v": -40}]}, "mark": {"type": "rule", "color": "#8c8c8c", "strokeDash": [4, 3], "strokeWidth": 1},
       "encoding": {"y": {"field": "v", "type": "quantitative"}}},
      {"data": {"values": [{"f": 10000}]}, "mark": {"type": "rule", "color": "#8c8c8c", "strokeDash": [6, 3, 1, 3], "strokeWidth": 1},
       "encoding": {"x": {"field": "f", "type": "quantitative"}}},
      {"data": {"name": "xticks"}, "mark": {"type": "rule", "color": "#7a7a7a"},
       "encoding": {"x": {"field": "f", "type": "quantitative"}, "y": {"datum": -50, "type": "quantitative"}, "y2": {"datum": -48.8}}},
      {"data": {"name": "xticks"}, "mark": {"type": "rule", "color": "#7a7a7a"},
       "encoding": {"x": {"field": "f", "type": "quantitative"}, "y": {"datum": 10, "type": "quantitative"}, "y2": {"datum": 8.8}}},
      {"data": {"values": [{}]}, "mark": {"type": "rect", "fill": "white", "stroke": "#222", "strokeDash": [7, 5], "strokeWidth": 1.3},
       "encoding": {"x": {"datum": 1083, "type": "quantitative"}, "x2": {"datum": 2577}, "y": {"datum": -12.2, "type": "quantitative"}, "y2": {"datum": -36.9}}},
      {"data": {"values": [{"f": 1326}, {"f": 1588}, {"f": 1883}, {"f": 2226}]}, "mark": {"type": "rule", "color": "#b5b5b5", "strokeDash": [1, 2]},
       "encoding": {"x": {"field": "f", "type": "quantitative"}, "y": {"datum": -12.6, "type": "quantitative"}, "y2": {"datum": -36.5}}},
      {"data": {"values": [{"v": -15.5}, {"v": -36.2}]}, "mark": {"type": "rule", "color": "#b5b5b5", "strokeDash": [1, 2]},
       "encoding": {"x": {"datum": 1090, "type": "quantitative"}, "x2": {"datum": 2560}, "y": {"field": "v", "type": "quantitative"}}},
      {"data": {"name": "inset"}, "mark": {"type": "line", "strokeWidth": 1.8, "interpolate": "monotone"},
       "encoding": {"x": {"field": "f", "type": "quantitative"}, "y": {"field": "m", "type": "quantitative"}, "color": {"field": "s", "type": "nominal", "legend": null}}},
      {"data": {"values": [{}]}, "mark": {"type": "rect", "fillOpacity": 0, "stroke": "#222", "strokeDash": [7, 5], "strokeWidth": 1.3},
       "encoding": {"x": {"datum": 3180, "type": "quantitative"}, "x2": {"datum": 4170}, "y": {"datum": 5, "type": "quantitative"}, "y2": {"datum": -40}}},
      {"data": {"values": [{"v": 0}]}, "mark": {"type": "rule", "color": "#ff3030", "strokeDash": [9, 5], "strokeWidth": 1.6},
       "encoding": {"y": {"field": "v", "type": "quantitative"}}},
      {"data": {"values": [{"f": 1000}]}, "mark": {"type": "rule", "color": "#ff3030", "strokeDash": [9, 5], "strokeWidth": 1.6},
       "encoding": {"x": {"field": "f", "type": "quantitative"}}},
      {"data": {"values": [{"f": 9325}]}, "mark": {"type": "rule", "color": "#4fa34a", "strokeDash": [0.1, 15], "strokeCap": "round", "strokeWidth": 4.5},
       "encoding": {"x": {"field": "f", "type": "quantitative"}, "y": {"datum": 0, "type": "quantitative"}, "y2": {"datum": -50}}},
      {"data": {"values": [{"f": 15000}]}, "mark": {"type": "rule", "color": "#6b7d3a", "strokeDash": [0.1, 15], "strokeCap": "round", "strokeWidth": 4.5},
       "encoding": {"x": {"field": "f", "type": "quantitative"}, "y": {"datum": 0, "type": "quantitative"}, "y2": {"datum": -50}}},
      {"data": {"name": "bode"}, "mark": {"type": "line", "strokeWidth": 2.6, "interpolate": "monotone"},
       "encoding": {"x": {"field": "f", "type": "quantitative"}, "y": {"field": "m", "type": "quantitative"}, "color": {"field": "s", "type": "nominal", "legend": null}}},
      {"data": {"values": [{"f": 3165, "m": -33.2}, {"f": 2625, "m": -27.9}]}, "mark": {"type": "line", "color": "#111", "strokeWidth": 1.3},
       "encoding": {"x": {"field": "f", "type": "quantitative"}, "y": {"field": "m", "type": "quantitative"}}},
      {"data": {"values": [{"f": 2603, "m": -27.6}]}, "mark": {"type": "point", "shape": "M-0.6,1.2L0,0L0.6,1.2", "size": 100, "angle": 295, "color": "#111", "strokeWidth": 1.5, "opacity": 1},
       "encoding": {"x": {"field": "f", "type": "quantitative"}, "y": {"field": "m", "type": "quantitative"}}},
      {"data": {"values": [{}]}, "mark": {"type": "rule", "color": "#000", "strokeWidth": 2},
       "encoding": {"x": {"datum": 1000, "type": "quantitative"}, "y": {"datum": -13.7, "type": "quantitative"}, "y2": {"datum": -10.0}}},
      {"data": {"values": [{"f": 1000, "m": -6.3}]}, "mark": {"type": "point", "shape": "M0,0L0.7,2L-0.7,2Z", "size": 196, "filled": true, "color": "#000", "opacity": 1},
       "encoding": {"x": {"field": "f", "type": "quantitative"}, "y": {"field": "m", "type": "quantitative"}}},
      {"data": {"values": [{"f": 975, "m": -16.6, "t": "f"}]}, "mark": {"type": "text", "fontSize": 24, "fontStyle": "italic", "color": "#000", "baseline": "middle"},
       "encoding": {"x": {"field": "f", "type": "quantitative"}, "y": {"field": "m", "type": "quantitative"}, "text": {"field": "t"}}},
      {"data": {"values": [{"f": 1013, "m": -18.6, "t": "c"}]}, "mark": {"type": "text", "fontSize": 15, "fontStyle": "italic", "color": "#000", "baseline": "middle"},
       "encoding": {"x": {"field": "f", "type": "quantitative"}, "y": {"field": "m", "type": "quantitative"}, "text": {"field": "t"}}},
      {"data": {"values": [{"a": 990, "b": 650}, {"a": 2228, "b": 1090}, {"a": 4024, "b": 9000}, {"a": 10080, "b": 18200}]}, "mark": {"type": "rule", "color": "#000", "strokeWidth": 3},
       "encoding": {"x": {"field": "a", "type": "quantitative"}, "x2": {"field": "b"}, "y": {"datum": -45.6, "type": "quantitative"}}},
      {"data": {"values": [{"f": 606}, {"f": 1015}]}, "mark": {"type": "point", "shape": "M0,0L2,-0.75L2,0.75Z", "size": 196, "filled": true, "color": "#000", "opacity": 1},
       "encoding": {"x": {"field": "f", "type": "quantitative"}, "y": {"datum": -45.6, "type": "quantitative"}}},
      {"data": {"values": [{"f": 9670}, {"f": 19500}]}, "mark": {"type": "point", "shape": "M0,0L-2,-0.75L-2,0.75Z", "size": 196, "filled": true, "color": "#000", "opacity": 1},
       "encoding": {"x": {"field": "f", "type": "quantitative"}, "y": {"datum": -45.6, "type": "quantitative"}}},
      {"data": {"values": [{"f": 748, "m": -40.3, "t": "Region I"}, {"f": 2995, "m": -44.2, "t": "Region II"}, {"f": 14200, "m": -39.7, "t": "Region III"}]},
       "mark": {"type": "text", "fontSize": 22, "fontStyle": "italic", "color": "#000", "baseline": "middle"},
       "encoding": {"x": {"field": "f", "type": "quantitative"}, "y": {"field": "m", "type": "quantitative"}, "text": {"field": "t"}}}
    ]
  },
  {
    "width": 700, "height": 170,
    "view": {"stroke": "#7a7a7a"},
    "layer": [
      {"data": {"name": "bode"}, "mark": {"type": "line", "strokeWidth": 0, "opacity": 0},
       "encoding": {
         "x": {"field": "f", "type": "quantitative", "scale": {"type": "log", "domain": [600, 20000], "nice": false},
               "axis": {"values": [1000, 10000], "labelExpr": "datum.value == 1000 ? '10³' : '10⁴'", "title": "Frequency  (Hz)", "titleFontWeight": "bold", "titleFontSize": 16, "labelFontSize": 16, "labelPadding": 10, "titlePadding": 8, "labelFlush": false, "labelOverlap": false}},
         "y": {"field": "p", "type": "quantitative", "scale": {"domain": [-360, 0], "nice": false, "zero": false}, "axis": {"values": [-180, -90], "labelExpr": "'' + datum.value", "title": "Phase (deg)", "labelPadding": 5, "titlePadding": 5}},
         "color": {"field": "s", "type": "nominal", "legend": null}}},
      {"data": {"values": [{"v": -90}]}, "mark": {"type": "rule", "color": "#8c8c8c", "strokeDash": [4, 3], "strokeWidth": 1},
       "encoding": {"y": {"field": "v", "type": "quantitative"}}},
      {"data": {"values": [{"f": 10000}]}, "mark": {"type": "rule", "color": "#8c8c8c", "strokeDash": [6, 3, 1, 3], "strokeWidth": 1},
       "encoding": {"x": {"field": "f", "type": "quantitative"}}},
      {"data": {"name": "xticks"}, "mark": {"type": "rule", "color": "#7a7a7a"},
       "encoding": {"x": {"field": "f", "type": "quantitative"}, "y": {"datum": -360, "type": "quantitative"}, "y2": {"datum": -351.5}}},
      {"data": {"name": "xticks"}, "mark": {"type": "rule", "color": "#7a7a7a"},
       "encoding": {"x": {"field": "f", "type": "quantitative"}, "y": {"datum": 0, "type": "quantitative"}, "y2": {"datum": -8.5}}},
      {"data": {"values": [{"v": -180}]}, "mark": {"type": "rule", "color": "#ff3030", "strokeDash": [9, 5], "strokeWidth": 1.6},
       "encoding": {"y": {"field": "v", "type": "quantitative"}}},
      {"data": {"values": [{"f": 1000}]}, "mark": {"type": "rule", "color": "#ff3030", "strokeDash": [9, 5], "strokeWidth": 1.6},
       "encoding": {"x": {"field": "f", "type": "quantitative"}}},
      {"data": {"values": [{"f": 9325}]}, "mark": {"type": "rule", "color": "#4fa34a", "strokeDash": [0.1, 15], "strokeCap": "round", "strokeWidth": 4.5},
       "encoding": {"x": {"field": "f", "type": "quantitative"}, "y": {"datum": 0, "type": "quantitative"}, "y2": {"datum": -236}}},
      {"data": {"values": [{"f": 15000}]}, "mark": {"type": "rule", "color": "#6b7d3a", "strokeDash": [0.1, 15], "strokeCap": "round", "strokeWidth": 4.5},
       "encoding": {"x": {"field": "f", "type": "quantitative"}, "y": {"datum": 0, "type": "quantitative"}, "y2": {"datum": -236}}},
      {"data": {"name": "bode"}, "mark": {"type": "line", "strokeWidth": 2.6, "interpolate": "monotone"},
       "encoding": {"x": {"field": "f", "type": "quantitative"}, "y": {"field": "p", "type": "quantitative"}, "color": {"field": "s", "type": "nominal", "legend": null}}},
      {"data": {"values": [{"f": 10740, "p": -189}]}, "mark": {"type": "point", "shape": "circle", "size": 2827, "color": "#222", "strokeWidth": 1.2, "opacity": 1},
       "encoding": {"x": {"field": "f", "type": "quantitative"}, "y": {"field": "p", "type": "quantitative"}}},
      {"data": {"values": [{"f": 12420, "p": -104.2}, {"f": 11640, "p": -138.2}, {"f": 12240, "p": -131.8}, {"f": 11240, "p": -165.8}]},
       "mark": {"type": "line", "color": "#4ea64a", "strokeWidth": 3},
       "encoding": {"x": {"field": "f", "type": "quantitative"}, "y": {"field": "p", "type": "quantitative"}, "order": {"value": null}}},
      {"data": {"values": [{"f": 11070, "p": -172}]}, "mark": {"type": "point", "shape": "M-0.6,1.2L0,0L0.6,1.2", "size": 150, "angle": 225, "color": "#4ea64a", "strokeWidth": 3, "opacity": 1},
       "encoding": {"x": {"field": "f", "type": "quantitative"}, "y": {"field": "p", "type": "quantitative"}}},
      {"data": {"values": [{}]}, "mark": {"type": "rect", "fill": "white", "stroke": "#a0a0a0", "strokeWidth": 1.3},
       "encoding": {"x": {"datum": 1210, "type": "quantitative"}, "x2": {"datum": 4725}, "y": {"datum": -282.5, "type": "quantitative"}, "y2": {"datum": -344}}},
      {"data": {"name": "blegend"}, "mark": {"type": "rule", "strokeWidth": 2.6},
       "encoding": {"x": {"field": "a", "type": "quantitative"}, "x2": {"field": "b"}, "y": {"datum": -316, "type": "quantitative"}, "color": {"field": "s", "type": "nominal", "legend": null}}},
      {"data": {"name": "blegend"}, "mark": {"type": "text", "fontSize": 23, "fontStyle": "italic", "baseline": "alphabetic"},
       "encoding": {"x": {"field": "c", "type": "quantitative"}, "y": {"datum": -330, "type": "quantitative"}, "text": {"field": "t"}, "color": {"field": "s", "type": "nominal", "legend": null}}}
    ]
  }
  ]
},
{
  "title": {"text": "(b)", "orient": "bottom", "anchor": "middle", "fontSize": 19, "fontWeight": "bold", "offset": 18, "frame": "group", "dx": 200},
  "vconcat": [
  {
    "width": 412, "height": 431,
    "title": {"text": "Pole-Zero Map", "fontSize": 15, "fontWeight": "normal", "offset": 19, "dy": 9},
    "view": {"stroke": "#000"},
    "layer": [
      {"data": {"name": "pz"}, "transform": [{"filter": "datum.k == 'p'"}], "mark": {"type": "point", "opacity": 0, "size": 1},
       "encoding": {
         "x": {"field": "x", "type": "quantitative", "scale": {"domain": [-1.3, 1.3], "nice": false, "zero": false}, "axis": {"values": [-1, -0.5, 0, 0.5, 1], "labelExpr": "'' + datum.value", "title": "Real Axis (seconds⁻¹)", "labelFontSize": 15, "titleFontSize": 14, "labelPadding": 5, "titlePadding": 9}},
         "y": {"field": "y", "type": "quantitative", "scale": {"domain": [-1.3, 1.3], "nice": false, "zero": false}, "axis": {"values": [-1, -0.5, 0, 0.5, 1], "labelExpr": "'' + datum.value", "title": "Imaginary Axis (seconds⁻¹)", "labelFontSize": 15, "titleFontSize": 14, "labelPadding": 5, "titlePadding": 2}}}},
      {"data": {"values": [{"v": 0}]}, "mark": {"type": "rule", "color": "#c4c4c4", "strokeDash": [1.5, 2], "strokeWidth": 0.9},
       "encoding": {"y": {"field": "v", "type": "quantitative"}}},
      {"data": {"name": "pzgrid"}, "mark": {"type": "line", "color": "#c4c4c4", "strokeDash": [1.5, 2], "strokeWidth": 0.9, "interpolate": "catmull-rom"},
       "encoding": {"x": {"field": "x", "type": "quantitative"}, "y": {"field": "y", "type": "quantitative"}, "detail": {"field": "g"}, "order": {"value": null}}},
      {"data": {"name": "uc"}, "mark": {"type": "line", "color": "#ababab", "strokeWidth": 1, "interpolate": "catmull-rom"},
       "encoding": {"x": {"field": "x", "type": "quantitative"}, "y": {"field": "y", "type": "quantitative"}, "order": {"value": null}}},
      {"data": {"name": "pzlabels"}, "mark": {"type": "text", "fontSize": 14, "color": "#3a3a3a", "baseline": "middle"},
       "encoding": {"x": {"field": "x", "type": "quantitative"}, "y": {"field": "y", "type": "quantitative"}, "text": {"field": "t"}}},
      {"data": {"name": "zlabels"}, "mark": {"type": "text", "fontSize": 13, "color": "#3a3a3a", "baseline": "middle"},
       "encoding": {"x": {"field": "x", "type": "quantitative"}, "y": {"field": "y", "type": "quantitative"}, "text": {"field": "t"}}},
      {"data": {"name": "pzticks"}, "mark": {"type": "rule", "color": "#000"},
       "encoding": {"x": {"field": "v", "type": "quantitative"}, "y": {"datum": -1.3, "type": "quantitative"}, "y2": {"datum": -1.27}}},
      {"data": {"name": "pzticks"}, "mark": {"type": "rule", "color": "#000"},
       "encoding": {"x": {"field": "v", "type": "quantitative"}, "y": {"datum": 1.3, "type": "quantitative"}, "y2": {"datum": 1.27}}},
      {"data": {"name": "pzticks"}, "mark": {"type": "rule", "color": "#000"},
       "encoding": {"y": {"field": "v", "type": "quantitative"}, "x": {"datum": -1.3, "type": "quantitative"}, "x2": {"datum": -1.268}}},
      {"data": {"name": "pzticks"}, "mark": {"type": "rule", "color": "#000"},
       "encoding": {"y": {"field": "v", "type": "quantitative"}, "x": {"datum": 1.3, "type": "quantitative"}, "x2": {"datum": 1.268}}},
      {"data": {"values": [{"x": 0.209, "y": 0.604}, {"x": 0.209, "y": -0.592}]},
       "mark": {"type": "point", "shape": "M-1,0C-1,-0.225,-0.552,-0.408,0,-0.408C0.552,-0.408,1,-0.225,1,0C1,0.225,0.552,0.408,0,0.408C-0.552,0.408,-1,0.225,-1,0Z", "size": 16900, "color": "#ff1a1a", "strokeWidth": 2, "opacity": 1},
       "encoding": {"x": {"field": "x", "type": "quantitative"}, "y": {"field": "y", "type": "quantitative"}}},
      {"data": {"values": [{"x": 0.706, "y": 0.709}, {"x": 0.706, "y": -0.709}]}, "mark": {"type": "point", "shape": "circle", "size": 290, "color": "#ff1a1a", "strokeWidth": 2, "opacity": 1},
       "encoding": {"x": {"field": "x", "type": "quantitative"}, "y": {"field": "y", "type": "quantitative"}}},
      {"data": {"values": [{"x": 0.836, "y": 0.532}, {"x": 0.836, "y": -0.532}]}, "mark": {"type": "point", "shape": "circle", "size": 190, "color": "#ff1a1a", "strokeWidth": 2, "opacity": 1},
       "encoding": {"x": {"field": "x", "type": "quantitative"}, "y": {"field": "y", "type": "quantitative"}}},
      {"data": {"name": "redarrows"}, "mark": {"type": "line", "color": "#ff1a1a", "strokeWidth": 1.6},
       "encoding": {"x": {"field": "x", "type": "quantitative"}, "y": {"field": "y", "type": "quantitative"}, "detail": {"field": "a"}, "order": {"value": null}}},
      {"data": {"name": "redheads"}, "mark": {"type": "point", "shape": "M-0.6,1.2L0,0L0.6,1.2", "size": 150, "color": "#ff1a1a", "strokeWidth": 1.6, "opacity": 1},
       "encoding": {"x": {"field": "x", "type": "quantitative"}, "y": {"field": "y", "type": "quantitative"}, "angle": {"field": "ang", "type": "quantitative", "scale": null}}},
      {"data": {"name": "redtext"}, "mark": {"type": "text", "fontSize": 17, "color": "#ff1a1a", "baseline": "middle"},
       "encoding": {"x": {"field": "x", "type": "quantitative"}, "y": {"field": "y", "type": "quantitative"}, "text": {"field": "t"}}},
      {"data": {"name": "blackarrows"}, "mark": {"type": "line", "color": "#000", "strokeWidth": 2, "interpolate": "catmull-rom"},
       "encoding": {"x": {"field": "x", "type": "quantitative"}, "y": {"field": "y", "type": "quantitative"}, "detail": {"field": "a"}, "order": {"value": null}}},
      {"data": {"name": "blackheads"}, "mark": {"type": "point", "shape": "M0,0L0.7,2L-0.7,2Z", "size": 70, "filled": true, "color": "#000", "opacity": 1},
       "encoding": {"x": {"field": "x", "type": "quantitative"}, "y": {"field": "y", "type": "quantitative"}, "angle": {"field": "ang", "type": "quantitative", "scale": null}}},
      {"data": {"name": "pz"}, "transform": [{"filter": "datum.k == 'z'"}], "mark": {"type": "point", "shape": "circle", "size": 70, "strokeWidth": 2.2, "opacity": 1},
       "encoding": {"x": {"field": "x", "type": "quantitative"}, "y": {"field": "y", "type": "quantitative"}, "color": {"field": "s", "type": "nominal", "legend": null}}},
      {"data": {"name": "pz"}, "transform": [{"filter": "datum.k == 'd'"}], "mark": {"type": "point", "shape": "circle", "size": 125, "filled": true, "opacity": 1},
       "encoding": {"x": {"field": "x", "type": "quantitative"}, "y": {"field": "y", "type": "quantitative"}, "color": {"field": "s", "type": "nominal", "legend": null}}},
      {"data": {"name": "pz"}, "transform": [{"filter": "datum.k == 'r'"}], "mark": {"type": "point", "shape": "circle", "size": 50, "filled": true, "fill": "white", "stroke": "#178317", "strokeWidth": 3, "opacity": 1},
       "encoding": {"x": {"field": "x", "type": "quantitative"}, "y": {"field": "y", "type": "quantitative"}}},
      {"data": {"name": "pz"}, "transform": [{"filter": "datum.k == 'p'"}], "mark": {"type": "point", "shape": "M-1,-1L1,1M-1,1L1,-1", "size": 60, "strokeWidth": 2.3, "opacity": 1},
       "encoding": {"x": {"field": "x", "type": "quantitative"}, "y": {"field": "y", "type": "quantitative"}, "color": {"field": "s", "type": "nominal", "legend": null}}},
      {"data": {"values": [{}]}, "mark": {"type": "rect", "fill": "white", "stroke": "#444", "strokeWidth": 1.6},
       "encoding": {"x": {"datum": -1.277, "type": "quantitative"}, "x2": {"datum": 0.714}, "y": {"datum": -1.118, "type": "quantitative"}, "y2": {"datum": -1.258}}},
      {"data": {"name": "pzlegend"}, "mark": {"type": "rule", "strokeWidth": 2.6},
       "encoding": {"x": {"field": "a", "type": "quantitative"}, "x2": {"field": "b"}, "y": {"datum": -1.185, "type": "quantitative"}, "color": {"field": "s", "type": "nominal", "legend": null}}},
      {"data": {"name": "pzlegend"}, "mark": {"type": "text", "fontSize": 29, "fontStyle": "italic", "baseline": "alphabetic"},
       "encoding": {"x": {"field": "c", "type": "quantitative"}, "y": {"datum": -1.215, "type": "quantitative"}, "text": {"field": "t"}, "color": {"field": "s", "type": "nominal", "legend": null}}}
    ]
  }
  ]
}
]
}
